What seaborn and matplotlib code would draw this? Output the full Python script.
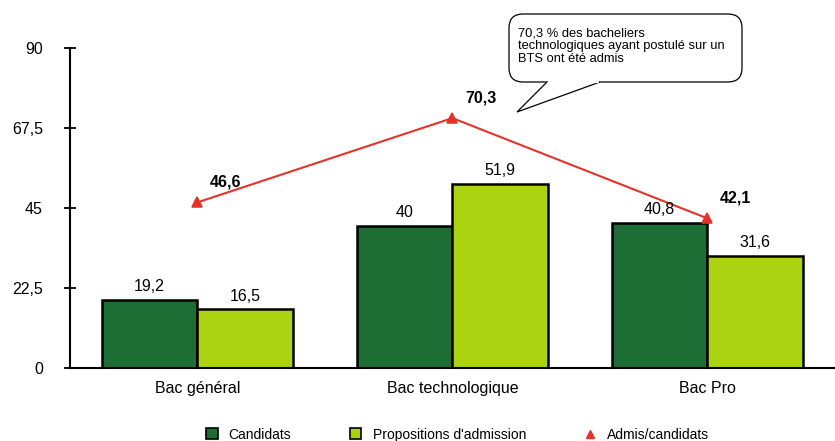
import numpy as np
import pandas as pd
import seaborn as sns
import matplotlib.pyplot as plt
from matplotlib.patches import Patch, FancyBboxPatch, Polygon
from matplotlib.lines import Line2D
from matplotlib.transforms import IdentityTransform

# data
categories = ['Bac général', 'Bac technologique', 'Bac Pro']
candidats = [19.2, 40.0, 40.8]
propositions = [16.5, 51.9, 31.6]
admis_candidats = [46.6, 70.3, 42.1]
yticks = [0, 22.5, 45, 67.5, 90]

dark_green = '#1c6e34'
light_green = '#acd312'
red = '#e5332a'

sns.set_style('white')
plt.rcParams['font.family'] = ['Liberation Sans', 'DejaVu Sans']
plt.rcParams['text.color'] = 'black'
plt.rcParams['xtick.color'] = 'black'
plt.rcParams['ytick.color'] = 'black'

bars = pd.DataFrame({
    'filiere': categories * 2,
    'serie': ['Candidats'] * 3 + ["Propositions d'admission"] * 3,
    'valeur': candidats + propositions,
})
ratio = pd.DataFrame({'filiere': categories, 'valeur': admis_candidats})

W, H = 835, 441
fig = plt.figure(figsize=(W / 100, H / 100), dpi=100)
ax = fig.add_axes([0.0838, 0.1655, 0.916, 0.7255])

sns.barplot(data=bars, x='filiere', y='valeur', hue='serie', order=categories,
            palette=[dark_green, light_green], width=0.75, gap=0, saturation=1,
            edgecolor='black', linewidth=1.8, ax=ax, legend=False)

for cont in ax.containers:
    ax.bar_label(cont, labels=[f'{v:g}'.replace('.', ',') for v in cont.datavalues],
                 padding=4, fontsize=11.5)

sns.pointplot(data=ratio, x='filiere', y='valeur', order=categories, color=red,
              markers='^', markersize=6.5, linewidth=1.5, ax=ax)

for i, v in enumerate(admis_candidats):
    ax.annotate(f'{v:g}'.replace('.', ','), (i, v), xytext=(9, 14.5),
                textcoords='offset points', ha='left', va='center',
                fontsize=11.5, fontweight='bold')

ax.set_xlim(-0.5, 2.5)
ax.set_ylim(0, 90)
ax.set_yticks(yticks)
ax.set_yticklabels([f'{t:g}'.replace('.', ',') for t in yticks], fontsize=11.5)
ax.set_xticks(range(3))
ax.set_xticklabels(categories, fontsize=11.5)
ax.set_xticks([0.5, 1.5], minor=True)
ax.tick_params(axis='x', which='major', length=0, pad=9)
ax.tick_params(axis='x', which='minor', direction='inout', length=8, width=1.3)
ax.tick_params(axis='y', direction='inout', length=9, width=1.3, pad=15, left=True)
ax.set_xlabel('')
ax.set_ylabel('')
for s in ['top', 'right']:
    ax.spines[s].set_visible(False)
for s in ['left', 'bottom']:
    ax.spines[s].set_linewidth(1.5)
    ax.spines[s].set_color('black')

# speech bubble, drawn in pixel coordinates (y from the top)
def px(x, y):
    return (x, H - y)

ident = IdentityTransform()
box = FancyBboxPatch(px(509, 82), 233, 68, boxstyle='round,pad=0,rounding_size=14',
                     fc='white', ec='black', lw=0.9, transform=ident)
fig.patches.append(box)
tail = Polygon([px(547, 82), px(517, 112), px(600, 82)], closed=False,
               fc='white', ec='black', lw=0.9, transform=ident)
fig.patches.append(tail)
fig.lines.append(Line2D([548.5, 597.5], [H - 82, H - 82], color='white', lw=1.6,
                        transform=ident))
fig.text(518 / W, 1 - 46.5 / H, "70,3 % des bacheliers\ntechnologiques ayant postulé sur un\nBTS ont été admis",
         fontsize=9.3, va='center', ha='left', linespacing=1.1)

handles = [
    Patch(facecolor=dark_green, edgecolor='black', linewidth=1.2, label='Candidats'),
    Patch(facecolor=light_green, edgecolor='black', linewidth=1.2, label="Propositions d'admission"),
    Line2D([], [], color=red, marker='^', linestyle='none', markersize=6, label='Admis/candidats'),
]
fig.legend(handles=handles, loc='lower center', bbox_to_anchor=(0.548, -0.03), ncol=3,
           frameon=False, fontsize=10, handlelength=0.85, handleheight=0.85,
           columnspacing=4.2, handletextpad=0.8)

fig.savefig('out.png', dpi=100)
